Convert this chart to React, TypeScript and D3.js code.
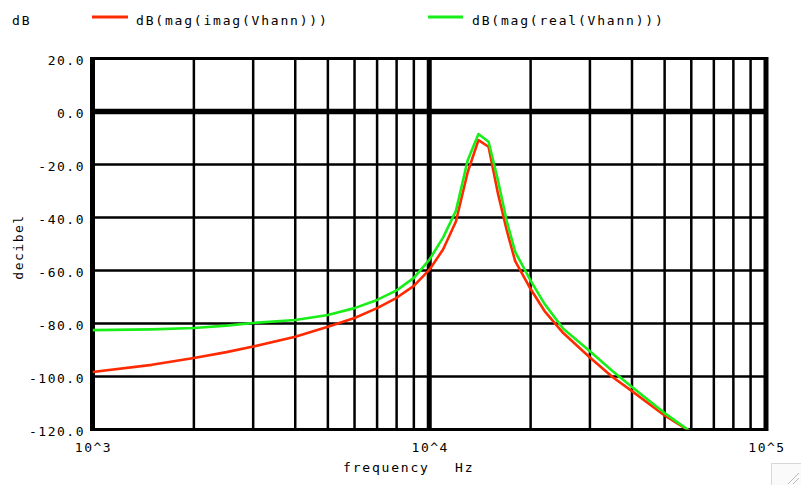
import React from "react";
import * as d3 from "d3";

const freqs = [1000, 1500, 2000, 2500, 3000, 4000, 5000, 6000, 7000, 8000, 9000, 10000, 11000, 12000, 13000, 14000, 15000, 16000, 17000, 18000, 20000, 22000, 25000, 30000, 35000, 40000, 50000, 60000, 70000];
const imagDb = [-98.3, -95.6, -93.0, -90.8, -88.7, -85.0, -81.2, -77.9, -74.2, -70.3, -65.8, -59.8, -52.0, -41.5, -23.0, -10.8, -13.3, -31.0, -45.0, -56.5, -67.0, -75.3, -83.6, -92.8, -100.2, -105.5, -114.7, -121.0, -126.0];
const realDb = [-82.5, -82.2, -81.7, -80.8, -79.8, -78.7, -76.8, -74.2, -71.1, -67.5, -62.8, -56.0, -47.5, -37.5, -18.5, -8.5, -11.4, -26.0, -41.5, -53.0, -63.8, -72.6, -82.0, -90.5, -97.9, -104.0, -113.8, -121.0, -126.0];
const yTicks = [20, 0, -20, -40, -60, -80, -100, -120];
const xTicks = [1000, 10000, 100000];
const xTickLabels = ["10^3", "10^4", "10^5"];
const seriesNames = ["dB(mag(imag(Vhann)))", "dB(mag(real(Vhann)))"];

const W = 801, H = 485;
const L = 92.5, R = 766, T = 58.5, B = 429.5;
const RED = "#ff2a00";
const GREEN = "#19ee19";
const FONT = "'DejaVu Sans Mono', monospace";

export default function App() {
  const x = d3.scaleLog().domain([1e3, 1e5]).range([L, R]);
  const y = d3.scaleLinear().domain([-120, 20]).range([B, T]);
  const line = d3.line<[number, number]>().x(d => x(d[0])).y(d => y(d[1]));
  const redPts = freqs.map((f, i) => [f, imagDb[i]] as [number, number]);
  const greenPts = freqs.map((f, i) => [f, realDb[i]] as [number, number]);

  const minorX: number[] = [];
  for (const dec of [1e3, 1e4]) for (let k = 2; k <= 9; k++) minorX.push(dec * k);

  const tickStyle = { fontFamily: FONT, fontSize: 13, letterSpacing: "1.5px" } as React.CSSProperties;
  const textStyle = { fontFamily: FONT, fontSize: 13, letterSpacing: "1.8px" } as React.CSSProperties;

  return (
    <svg width={W} height={H} style={{ position: "absolute", left: 0, top: 0, background: "#fff" }}>
      <defs>
        <clipPath id="plot">
          <rect x={L} y={T} width={R - L} height={B - T} />
        </clipPath>
      </defs>
      <rect x={0} y={0} width={W} height={H} fill="#fff" />
      {/* grid */}
      {minorX.map(f => (
        <line key={"vx" + f} x1={x(f)} x2={x(f)} y1={T} y2={B} stroke="#000" strokeWidth={2.5} />
      ))}
      {yTicks.map(v => (
        <line key={"hy" + v} x1={L} x2={R} y1={y(v)} y2={y(v)} stroke="#000" strokeWidth={v === 0 ? 5.5 : 2.5} />
      ))}
      <line x1={x(1e4)} x2={x(1e4)} y1={T} y2={B} stroke="#000" strokeWidth={5} />
      {/* frame */}
      <line x1={L} x2={R} y1={T} y2={T} stroke="#000" strokeWidth={3} />
      <line x1={L} x2={R} y1={B} y2={B} stroke="#000" strokeWidth={3} />
      <line x1={L} x2={L} y1={T - 1.5} y2={B + 1.5} stroke="#000" strokeWidth={5} />
      <line x1={R} x2={R} y1={T - 1.5} y2={B + 1.5} stroke="#000" strokeWidth={5} />
      {/* curves */}
      <g clipPath="url(#plot)">
        <path d={line(redPts) || ""} fill="none" stroke={RED} strokeWidth={2.6} strokeLinejoin="round" />
        <path d={line(greenPts) || ""} fill="none" stroke={GREEN} strokeWidth={2.6} strokeLinejoin="round" />
      </g>
      {/* y tick labels */}
      {yTicks.map(v => (
        <text key={"yl" + v} x={85} y={y(v) + 6} textAnchor="end" style={tickStyle} fill="#000">
          {v.toFixed(1)}
        </text>
      ))}
      {/* x tick labels */}
      {xTicks.map((f, i) => (
        <text key={"xl" + f} x={x(f) + 1} y={451.5} textAnchor="middle" style={tickStyle} fill="#000">
          {xTickLabels[i]}
        </text>
      ))}
      <text x={343} y={472} style={textStyle} fill="#000">frequency</text>
      <text x={455} y={472} style={textStyle} fill="#000">Hz</text>
      <text transform="translate(23,247) rotate(-90)" textAnchor="middle" style={tickStyle} fill="#000">decibel</text>
      {/* legend */}
      <text x={12} y={25} style={textStyle} fill="#000">dB</text>
      <line x1={92} x2={128} y1={17} y2={17} stroke={RED} strokeWidth={3} />
      <text x={136} y={25} style={textStyle} fill="#000">{seriesNames[0]}</text>
      <line x1={428} x2={463} y1={17} y2={17} stroke={GREEN} strokeWidth={3} />
      <text x={472} y={25} style={textStyle} fill="#000">{seriesNames[1]}</text>
      {/* resize grip */}
      <g>
        <rect x={771.5} y={463.5} width={30} height={30} fill="#fafafa" stroke="#d8d8d8" />
        <line x1={788} x2={799} y1={484} y2={473} stroke="#bbb" strokeWidth={1} />
        <line x1={793} x2={799} y1={484} y2={478} stroke="#bbb" strokeWidth={1} />
      </g>
    </svg>
  );
}
